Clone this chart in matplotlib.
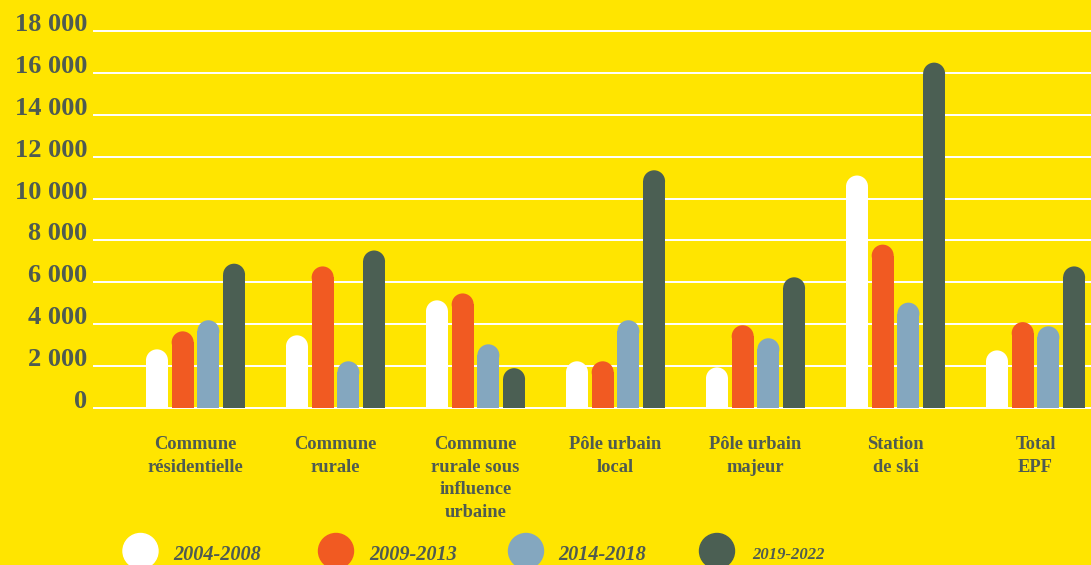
import numpy as np
import matplotlib
matplotlib.use("Agg")
import matplotlib.pyplot as plt
from matplotlib.patches import Ellipse, Circle

# données
categories = ["Commune\nrésidentielle", "Commune\nrurale", "Commune\nrurale sous\ninfluence\nurbaine",
              "Pôle urbain\nlocal", "Pôle urbain\nmajeur", "Station\nde ski", "Total\nEPF"]
periodes = ["2004-2008", "2009-2013", "2014-2018", "2019-2022"]
p2004_2008 = [2800, 3470, 5140, 2230, 1940, 11100, 2750]
p2009_2013 = [3660, 6760, 5470, 2230, 3950, 7800, 4100]
p2014_2018 = [4190, 2230, 3040, 4190, 3330, 5030, 3900]
p2019_2022 = [6890, 7520, 1900, 11350, 6240, 16490, 6760]
yticks = [0, 2000, 4000, 6000, 8000, 10000, 12000, 14000, 16000, 18000]

series = [p2004_2008, p2009_2013, p2014_2018, p2019_2022]
couleurs = ["#ffffff", "#f15a22", "#84a7bf", "#4b5f53"]
fond = "#ffe500"
texte = "#4f5b51"
police = "Liberation Serif"

W, H = 1091, 565
fig = plt.figure(figsize=(W / 100, H / 100), dpi=100, facecolor=fond)
ax = fig.add_axes([94 / W, (H - 408) / H, 1 - 94 / W, (408 - 31) / H])
ax.set_facecolor(fond)
ax.set_xlim(-0.725, 6.396)
ax.set_ylim(0, 18000)

x = np.arange(len(categories))
largeur = 0.157
pas = 0.1836
# rayon du bout arrondi en unités de données (axe y)
r_px = largeur * 140 / 2
ry = r_px * 18000 / (408 - 31)

for i, (serie, couleur) in enumerate(zip(series, couleurs)):
    xs = x + (i - 1.5) * pas
    for xi, v in zip(xs, serie):
        ax.bar(xi, v - ry, width=largeur, color=couleur, zorder=3, linewidth=0)
        ax.add_patch(Ellipse((xi, v - ry), largeur, 2 * ry, color=couleur, zorder=3,
                             linewidth=0, clip_on=False))

for y in yticks:
    ax.axhline(y, color="white", linewidth=1.4, zorder=1, clip_on=False)

for s in ax.spines.values():
    s.set_visible(False)

ax.set_yticks(yticks, [f"{v:,}".replace(",", " ") for v in yticks])
ax.set_xticks(x, categories)
ax.tick_params(axis="y", length=0, pad=5)
ax.tick_params(axis="x", length=0, pad=20)
for lbl in ax.get_yticklabels():
    lbl.set_fontfamily(police)
    lbl.set_fontweight("bold")
    lbl.set_fontsize(19)
    lbl.set_color(texte)
    lbl.set_verticalalignment("baseline")
for lbl in ax.get_xticklabels():
    lbl.set_fontfamily(police)
    lbl.set_fontweight("bold")
    lbl.set_fontsize(13.3)
    lbl.set_color(texte)
    lbl.set_linespacing(1.45)

# légende faite à la main
cx = [140.5, 336, 526, 717]
tx = [173, 369, 558, 752]
tailles = [14.6, 14.6, 14.6, 12]
for c, t, p, couleur, fs in zip(cx, tx, periodes, couleurs, tailles):
    fig.patches.append(Circle((c / 100, (H - 551) / 100), 0.175, color=couleur,
                              transform=fig.dpi_scale_trans, figure=fig))
    fig.text(t / W, (H - 555) / H, p, fontfamily=police, fontweight="bold",
             fontstyle="italic", fontsize=fs, color=texte, va="center", ha="left")

fig.savefig("out.png", dpi=100, facecolor=fond)
